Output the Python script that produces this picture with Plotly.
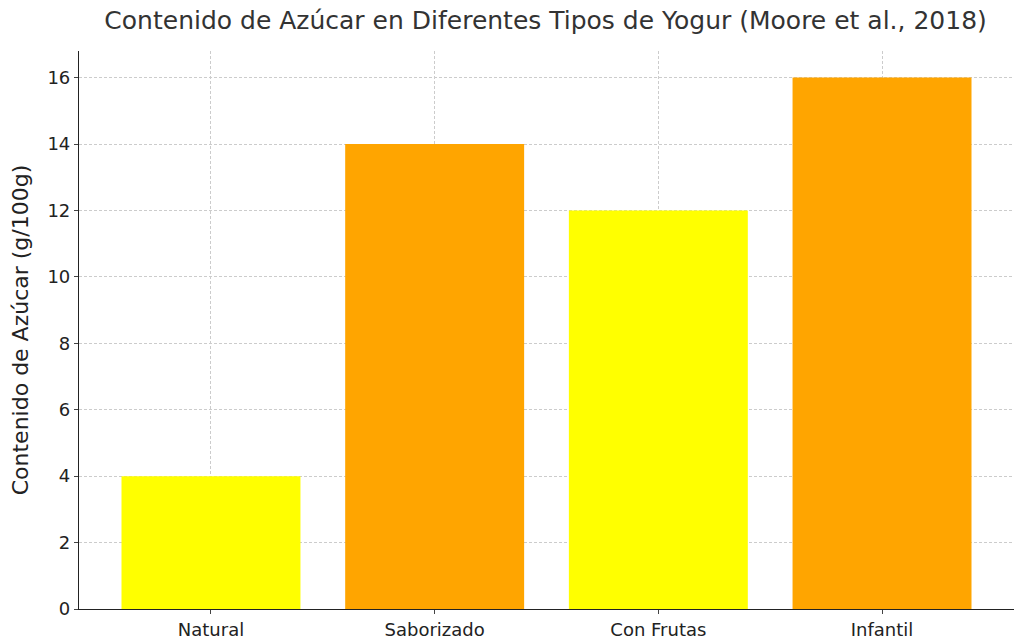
import plotly.graph_objects as go

# datos del gráfico
tipos = ['Natural', 'Saborizado', 'Con Frutas', 'Infantil']
azucar = [4, 14, 12, 16]
colores = ['yellow', 'orange', 'yellow', 'orange']

fig = go.Figure()
fig.add_trace(go.Bar(x=tipos, y=azucar, marker_color=colores, width=0.8,
                     marker_line_width=0))

fig.update_layout(
    width=1024, height=639,
    plot_bgcolor='white', paper_bgcolor='white',
    font=dict(family='DejaVu Sans', size=18, color='#222'),
    title=dict(text='Contenido de Azúcar en Diferentes Tipos de Yogur (Moore et al., 2018)',
               x=0.525, xanchor='center', y=0.995, yanchor='top',
               font=dict(size=25, color='#333')),
    margin=dict(l=71, r=18, t=43, b=38),
    showlegend=False,
    bargap=0.2,
)
fig.update_xaxes(range=[-0.59, 3.59], showline=True, linecolor='#222', linewidth=1.2,
                 showgrid=True, gridcolor='#ccc', griddash='3px,2px', gridwidth=0.8,
                 ticks='outside', ticklen=4, layer='above traces', automargin=False)
fig.update_yaxes(range=[0, 16.8], dtick=2, showline=True, linecolor='#222', linewidth=1.2,
                 showgrid=True, gridcolor='#ccc', griddash='3px,2px', gridwidth=0.8,
                 ticks='outside', ticklen=4, zeroline=False, layer='above traces',
                 automargin=False,
                 title=dict(text='Contenido de Azúcar (g/100g)', standoff=12))

fig.write_html('out.html')
